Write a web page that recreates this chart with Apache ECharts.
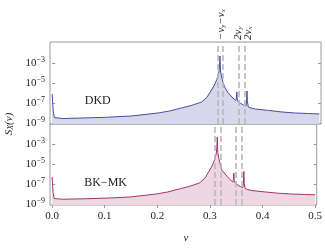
<!DOCTYPE html>
<html><head><meta charset="utf-8">
<script src="https://cdn.jsdelivr.net/npm/echarts@6/dist/echarts.min.js"></script>
<style>html,body{margin:0;padding:0;background:#fff}#c{width:325px;height:250px}</style>
</head><body><div id="c"></div>
<script>
// frequency ν
const nu = [0.000,0.001,0.002,0.004,0.007,0.020,0.060,0.100,0.148,0.198,0.220,0.242,0.260,0.280,0.290,0.298,0.303,0.306,0.308,0.310,0.312,0.313,0.3135,0.314,0.3145,0.315,0.317,0.320,0.3225,0.324,0.3255,0.329,0.333,0.338,0.3435,0.3448,0.3455,0.3462,0.348,0.352,0.3577,0.3625,0.3637,0.3645,0.3652,0.367,0.372,0.380,0.405,0.430,0.455,0.480,0.500];
// S_X(ν) for DKD (top panel)
const dkd = [7.9e-7,1.0e-7,1.6e-8,3.5e-9,2.8e-9,2.8e-9,3.2e-9,3.7e-9,5.0e-9,1.0e-8,1.6e-8,3.2e-8,5.6e-8,1.26e-7,4.0e-7,2.0e-6,5.6e-6,1.26e-5,2.2e-5,4.5e-5,1.26e-4,4.0e-4,1.0e-3,5.0e-3,6.3e-4,1.6e-4,4.0e-5,1.0e-5,4.5e-6,5.0e-6,2.2e-6,1.1e-6,6.3e-7,3.2e-7,1.8e-7,3.2e-7,1.26e-6,2.5e-7,1.4e-7,1.0e-7,6.3e-8,5.0e-8,1.26e-7,1.6e-6,1.6e-7,4.0e-8,3.2e-8,2.5e-8,1.8e-8,1.26e-8,1.0e-8,8.9e-9,7.9e-9];
// S_X(ν) for BK-MK (bottom panel)
const bkmk = [5.0e-7,7.9e-8,1.26e-8,3.5e-9,3.0e-9,3.0e-9,3.3e-9,3.8e-9,5.0e-9,1.0e-8,1.6e-8,3.2e-8,5.6e-8,1.26e-7,3.5e-7,1.8e-6,5.0e-6,1.1e-5,2.0e-5,4.0e-5,1.1e-4,3.5e-4,1.0e-3,5.0e-3,5.6e-4,1.4e-4,3.5e-5,7.9e-6,2.5e-6,2.8e-6,1.6e-6,1.0e-6,5.6e-7,2.8e-7,1.6e-7,2.8e-7,1.26e-6,2.2e-7,1.26e-7,8.9e-8,5.6e-8,4.5e-8,1.26e-7,1.8e-6,1.4e-7,3.5e-8,2.8e-8,2.2e-8,1.6e-8,1.2e-8,1.0e-8,8.9e-9,8.3e-9];
// resonance lines
const resonanceNu = [0.314, 0.324, 0.3455, 0.3645];
const resonanceLabels = [
  {at: 0.314, text: '−ν{sb|y}−ν{sb|x}'},
  {at: 0.3455, text: '2ν{sb|y}'},
  {at: 0.3645, text: '2ν{sb|x}'}
];
const xTicks = [0, 0.1, 0.2, 0.3, 0.4, 0.5];
const yTickExp = [-9, -7, -5, -3];
const panelNames = ['DKD', 'BK−MK'];

const FONT = '"Liberation Serif","DejaVu Serif",serif';
const FRAME = '#9a9a9a';
const chart = echarts.init(document.getElementById('c'), null, {renderer: 'canvas'});

function toLog(arr) { return nu.map((x, i) => [x, Math.log10(arr[i])]); }

function xAxis(gi, labels) {
  return {
    type: 'value', gridIndex: gi, min: -0.004, max: 0.503,
    axisLine: {show: false},
    splitLine: {show: false},
    axisTick: {show: labels, customValues: xTicks, length: 3, inside: false, lineStyle: {color: FRAME}},
    axisLabel: {show: labels, customValues: xTicks, formatter: v => v.toFixed(1), fontFamily: FONT, fontSize: 11, color: '#222', margin: 6}
  };
}
function yAxis(gi, min, max, pos) {
  const left = pos === 'left';
  return {
    type: 'value', gridIndex: gi, min: min, max: max, position: pos,
    axisLine: {show: false},
    splitLine: {show: false},
    axisTick: {show: true, customValues: yTickExp, inside: true, length: 3, lineStyle: {color: FRAME}},
    axisLabel: {
      show: left, customValues: yTickExp, margin: 5, fontFamily: FONT, fontSize: 11, color: '#222',
      formatter: v => '10{s|−' + Math.abs(Math.round(v)) + '}',
      rich: {s: {fontSize: 8, fontFamily: FONT, verticalAlign: 'top', color: '#222', padding: [0,0,6,0]}}
    }
  };
}
function markLine() {
  return {
    silent: true, symbol: 'none', animation: false,
    label: {show: false},
    lineStyle: {color: '#b8b8b8', width: 1.6, type: [6, 3]},
    data: resonanceNu.map(v => ({xAxis: v}))
  };
}

const option = {
  animation: false,
  grid: [
    {left: 50, right: 4, top: 42, height: 82, show: true, borderColor: FRAME, borderWidth: 1, backgroundColor: 'transparent'},
    {left: 50, right: 4, top: 124, height: 81, show: true, borderColor: FRAME, borderWidth: 1, backgroundColor: 'transparent'}
  ],
  xAxis: [xAxis(0, false), xAxis(1, true)],
  yAxis: [yAxis(0, -9.1, -0.9, 'left'), yAxis(1, -9.1, -1.0, 'left'), yAxis(0, -9.1, -0.9, 'right'), yAxis(1, -9.1, -1.0, 'right')],
  series: [
    {type: 'line', xAxisIndex: 0, yAxisIndex: 0, data: toLog(dkd), showSymbol: false, symbol: 'none',
     lineStyle: {color: '#4b4ba3', width: 1}, areaStyle: {color: '#d7d7ec', opacity: 1, origin: 'start'}, markLine: markLine(), z: 2},
    {type: 'line', xAxisIndex: 1, yAxisIndex: 1, data: toLog(bkmk), showSymbol: false, symbol: 'none',
     lineStyle: {color: '#a0346c', width: 1}, areaStyle: {color: '#efd7e2', opacity: 1, origin: 'start'}, markLine: markLine(), z: 2}
  ]
};
chart.setOption(option);

const g = [];
const txt = '#222';
resonanceLabels.forEach(r => {
  const p = chart.convertToPixel({gridIndex: 0}, [r.at, -0.9]);
  g.push({type: 'text', x: p[0] + 1, y: p[1] - 2, rotation: Math.PI / 2, z: 10,
    style: {text: r.text, fill: txt, font: 'italic 11px ' + FONT, align: 'left', verticalAlign: 'middle',
      rich: {sb: {fontSize: 7, fontStyle: 'italic', fontFamily: FONT, verticalAlign: 'bottom', fill: txt}}}});
});
const p1 = chart.convertToPixel({gridIndex: 0}, [0.061, -6.8]);
g.push({type: 'text', x: p1[0], y: p1[1], z: 10, style: {text: panelNames[0], fill: txt, font: '12px ' + FONT, align: 'left', verticalAlign: 'middle'}});
const p2 = chart.convertToPixel({gridIndex: 1}, [0.061, -6.9]);
g.push({type: 'text', x: p2[0], y: p2[1], z: 10, style: {text: panelNames[1], fill: txt, font: '12px ' + FONT, align: 'left', verticalAlign: 'middle'}});
// axis titles
g.push({type: 'text', x: 9, y: 124, rotation: Math.PI / 2, z: 10,
  style: {text: 'S{sb|X}(ν)', fill: txt, font: 'italic 11px ' + FONT, align: 'center', verticalAlign: 'middle',
    rich: {sb: {fontSize: 8, fontStyle: 'italic', fontFamily: FONT, verticalAlign: 'bottom', fill: txt}}}});
g.push({type: 'text', x: 186, y: 238, z: 10, style: {text: 'ν', fill: txt, font: 'italic 11px ' + FONT, align: 'center', verticalAlign: 'middle'}});
chart.setOption({graphic: g});
</script>
</body></html>
